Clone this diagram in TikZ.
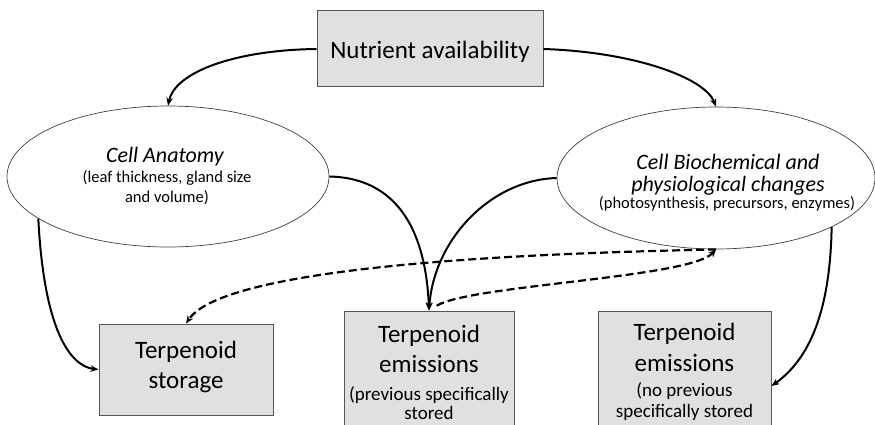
\documentclass[tikz,border=0pt]{standalone}
\usepackage{fontspec}
\setmainfont{Carlito}
\usetikzlibrary{shapes.geometric,arrows.meta}
\definecolor{boxfill}{HTML}{E0E0E0}
\definecolor{boxline}{HTML}{555555}
\tikzset{
  graybox/.style={draw=boxline, line width=1pt, fill=boxfill, rectangle, inner sep=0pt},
  oval/.style={draw=black!75, line width=0.7pt, ellipse, inner sep=0pt, fill=white},
  txt/.style={anchor=base, inner sep=0pt},
  conn/.style={line width=2pt, -{Stealth[length=8pt,width=6.5pt]}},
  dconn/.style={line width=2.2pt, dash pattern=on 8pt off 4pt, -{Stealth[length=8pt,width=6.5pt]}},
}
\begin{document}
\begin{tikzpicture}[x=1pt,y=-1pt]
\useasboundingbox (0,0) rectangle (875,425);
\clip (0,0) rectangle (875,425);
% nodes
\node[graybox, minimum width=226pt, minimum height=76pt] (top) at (430,49) {};
\node[txt, font=\fontsize{25}{30}\selectfont] (toptxt) at (430,59) {Nutrient availability};

\node[oval, minimum width=322pt, minimum height=141pt] (eL) at (168,176.5) {};
\node[txt, font=\fontsize{22}{26}\selectfont\itshape] (eL1) at (165,162) {Cell Anatomy};
\node[txt, font=\fontsize{16.5}{20}\selectfont] (eL2) at (167,182) {(leaf thickness, gland size};
\node[txt, font=\fontsize{16.5}{20}\selectfont] (eL3) at (167,202) {and volume)};

\node[oval, minimum width=318pt, minimum height=142pt] (eR) at (716,178) {};
\node[txt, text depth=0pt, font=\fontsize{22}{26}\selectfont\itshape] (eR1) at (728,169.5) {Cell Biochemical and};
\node[txt, text depth=0pt, font=\fontsize{22}{26}\selectfont\itshape] (eR2) at (728,191) {physiological changes};
\node[txt, font=\fontsize{16.5}{20}\selectfont] (eR3) at (727,208.5) {(photosynthesis, precursors, enzymes)};

\node[graybox, minimum width=174pt, minimum height=91pt] (stor) at (186,369.5) {};
\node[txt, font=\fontsize{25}{30}\selectfont] (stor1) at (186,358) {Terpenoid};
\node[txt, font=\fontsize{25}{30}\selectfont] (stor2) at (186,388) {storage};

\node[graybox, minimum width=170pt, minimum height=150pt] (mid) at (429,386) {};
\node[txt, font=\fontsize{25}{30}\selectfont] (mid1) at (429,342) {Terpenoid};
\node[txt, font=\fontsize{25}{30}\selectfont] (mid2) at (429,372) {emissions};
\node[txt, font=\fontsize{19}{22}\selectfont] (mid3) at (429,400) {(previous specifically};
\node[txt, font=\fontsize{19}{22}\selectfont] (mid4) at (429,419) {stored};

\node[graybox, minimum width=173pt, minimum height=150pt] (rgt) at (684.5,386) {};
\node[txt, font=\fontsize{25}{30}\selectfont] (rgt1) at (684.5,340) {Terpenoid};
\node[txt, font=\fontsize{25}{30}\selectfont] (rgt2) at (684.5,371) {emissions};
\node[txt, font=\fontsize{19}{22}\selectfont] (rgt3) at (684.5,396) {(no previous};
\node[txt, font=\fontsize{19}{22}\selectfont] (rgt4) at (684.5,417) {specifically stored};

% connectors
\draw[conn] (top.west) .. controls (235,50) and (175,72) .. (eL.north);
\draw[conn] (top.east) .. controls (635,52) and (705,78) .. (eR.north);
\draw[conn] (eL.198) .. controls (44,330) and (70,366) .. (stor.west);
\draw[conn] (eL.east) .. controls (400,178) and (426,235) .. (mid.north);
\draw[conn] (eR.west) .. controls (490,180) and (434,240) .. (mid.north);
\draw[conn] (eR.337) .. controls (830,320) and (805,362) .. (rgt.east);
\draw[dconn] (eR.south) .. controls (620,252) and (230,258) .. (stor.north);
\draw[dconn, shorten <=9pt] (mid.north) .. controls (470,285) and (690,278) .. (eR.south);
\end{tikzpicture}
\end{document}
